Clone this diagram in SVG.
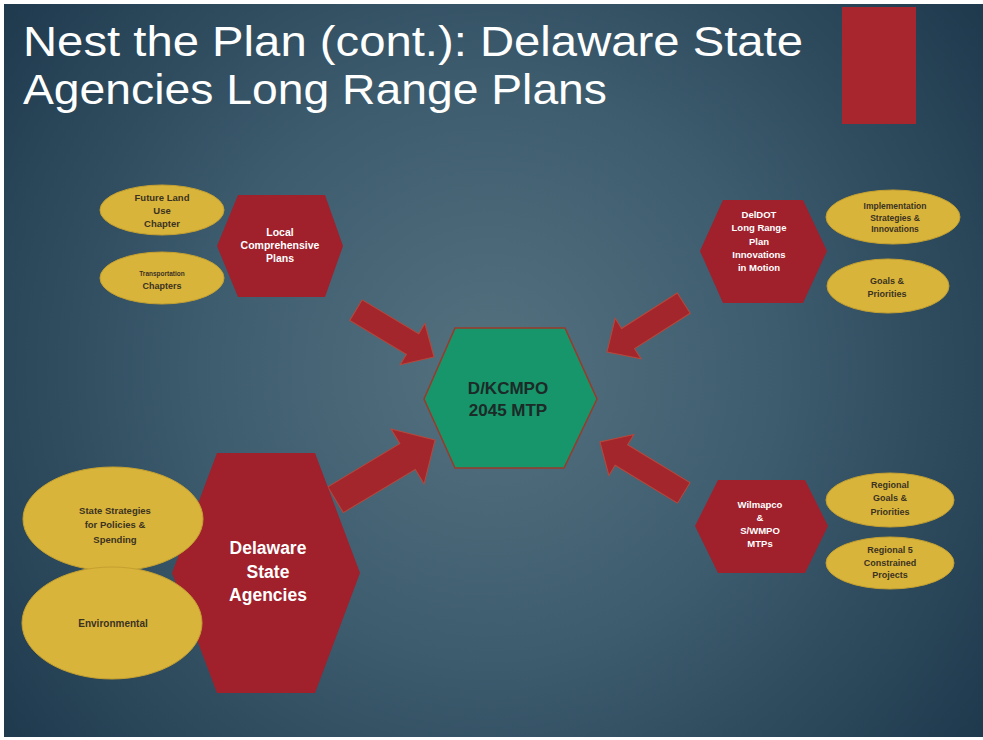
<svg xmlns="http://www.w3.org/2000/svg" width="983" height="740" viewBox="0 0 983 740">
<defs>
<radialGradient id="bg" cx="490" cy="370" r="640" gradientUnits="userSpaceOnUse">
<stop offset="0" stop-color="#54717f"/>
<stop offset="0.45" stop-color="#3d5c6e"/>
<stop offset="1" stop-color="#1c364a"/>
</radialGradient>
<path id="arrowS" d="M0 0 L-25 -24 L-25 -12 L-91 -12 L-91 12 L-25 12 L-25 24 Z"/>
</defs>
<style>
.hex{fill:#a0202c;}
.ell{fill:#d9b43a;stroke:#c4a030;stroke-width:1;}
.arr{fill:#a3262c;stroke:#b8483c;stroke-width:1;}
.ht{font-family:"Liberation Sans",Arial,sans-serif;font-weight:bold;fill:#ffffff;text-anchor:middle;}
.et{font-family:"Liberation Sans",Arial,sans-serif;font-weight:bold;fill:#3b3222;text-anchor:middle;}
.title{font-family:"Liberation Sans",Arial,sans-serif;font-size:42px;fill:#ffffff;}
</style>
<rect x="0" y="0" width="983" height="740" fill="#ffffff"/>
<rect x="4" y="4" width="979" height="733" fill="url(#bg)"/>
<g id="title">
<text class="title" x="23" y="56" textLength="780" lengthAdjust="spacingAndGlyphs">Nest the Plan (cont.): Delaware State</text>
<text class="title" x="23" y="104" textLength="584" lengthAdjust="spacingAndGlyphs">Agencies Long Range Plans</text>
</g>
<rect id="accent" x="842" y="7" width="74" height="117" fill="#a8262d"/>
<g id="connectors">
<use href="#arrowS" class="arr" transform="translate(434,357) rotate(31)"/>
<use href="#arrowS" class="arr" transform="translate(607,352) rotate(147.5)"/>
<path class="arr" d="M0 0 L-32 -32 L-32 -15 L-116 -15 L-116 15 L-32 15 L-32 32 Z" transform="translate(435,440) rotate(-31)"/>
<path class="arr" d="M0 0 L-25 -24 L-25 -12 L-98 -12 L-98 12 L-25 12 L-25 24 Z" transform="translate(600,442) rotate(-148.7)"/>
</g>
<g id="center">
<polygon points="455,328 565,328 597,399 564,468 455,468 424,399" fill="#17966b" stroke="#9a3a2a" stroke-width="1.5"/>
<text class="ht" style="fill:#1c2a28;font-size:17px" x="508" y="394">D/KCMPO</text>
<text class="ht" style="fill:#1c2a28;font-size:17px" x="508" y="416">2045 MTP</text>
</g>
<g id="local">
<polygon class="hex" points="238,195 325,195 343,246 325,297 238,297 217,246"/>
<text class="ht" font-size="10.5" x="280" y="235.5">Local</text>
<text class="ht" font-size="10.5" x="280" y="248.5">Comprehensive</text>
<text class="ht" font-size="10.5" x="280" y="261.5">Plans</text>
</g>
<g id="futureland">
<ellipse class="ell" cx="162" cy="210" rx="62" ry="25"/>
<text class="et" font-size="9.5" x="162" y="200.5">Future Land</text>
<text class="et" font-size="9.5" x="162" y="213.5">Use</text>
<text class="et" font-size="9.5" x="162" y="226.5">Chapter</text>
</g>
<g id="transport">
<ellipse class="ell" cx="162" cy="278" rx="62" ry="26"/>
<text class="et" font-size="6.5" x="162" y="275.5">Transportation</text>
<text class="et" font-size="9" x="162" y="289">Chapters</text>
</g>
<g id="deldot">
<polygon class="hex" points="723,200 803,200 827,251 803,303 723,303 700,251"/>
<text class="ht" font-size="9.5" x="759" y="218">DelDOT</text>
<text class="ht" font-size="9.5" x="759" y="231">Long Range</text>
<text class="ht" font-size="9.5" x="759" y="244.5">Plan</text>
<text class="ht" font-size="9.5" x="759" y="258">Innovations</text>
<text class="ht" font-size="9.5" x="759" y="271">in Motion</text>
</g>
<g id="implementation">
<ellipse class="ell" cx="893" cy="217" rx="67" ry="27"/>
<text class="et" font-size="8.5" x="895" y="209">Implementation</text>
<text class="et" font-size="8.5" x="895" y="221">Strategies &amp;</text>
<text class="et" font-size="8.5" x="895" y="232">Innovations</text>
</g>
<g id="goals">
<ellipse class="ell" cx="888" cy="286" rx="61" ry="27"/>
<text class="et" font-size="9" x="887" y="283.5">Goals &amp;</text>
<text class="et" font-size="9" x="887" y="296.5">Priorities</text>
</g>
<g id="wilmapco">
<polygon class="hex" points="718,480 805,480 828,526 805,573 718,573 695,526"/>
<text class="ht" font-size="9.5" x="760" y="507.5">Wilmapco</text>
<text class="ht" font-size="9.5" x="760" y="520.5">&amp;</text>
<text class="ht" font-size="9.5" x="760" y="533.5">S/WMPO</text>
<text class="ht" font-size="9.5" x="760" y="546.5">MTPs</text>
</g>
<g id="regionalgoals">
<ellipse class="ell" cx="890" cy="500" rx="64" ry="27"/>
<text class="et" font-size="9" x="890" y="488">Regional</text>
<text class="et" font-size="9" x="890" y="501">Goals &amp;</text>
<text class="et" font-size="9" x="890" y="515">Priorities</text>
</g>
<g id="regional5">
<ellipse class="ell" cx="890" cy="563" rx="64" ry="26"/>
<text class="et" font-size="9" x="890" y="553">Regional 5</text>
<text class="et" font-size="9" x="890" y="566">Constrained</text>
<text class="et" font-size="9" x="890" y="578">Projects</text>
</g>
<g id="delaware">
<polygon class="hex" points="217,453 315,453 360,573 315,693 217,693 172,573"/>
<text class="ht" font-size="17.5" x="268" y="554">Delaware</text>
<text class="ht" font-size="17.5" x="268" y="578">State</text>
<text class="ht" font-size="17.5" x="268" y="601">Agencies</text>
</g>
<g id="statestrategies">
<ellipse class="ell" cx="113" cy="519" rx="90" ry="52"/>
<text class="et" font-size="9.5" x="115" y="513.5">State Strategies</text>
<text class="et" font-size="9.5" x="115" y="527.5">for Policies &amp;</text>
<text class="et" font-size="9.5" x="115" y="542.5">Spending</text>
</g>
<g id="environmental">
<ellipse class="ell" cx="112" cy="623" rx="90" ry="56"/>
<text class="et" font-size="10" x="113" y="626.5">Environmental</text>
</g>
</svg>
